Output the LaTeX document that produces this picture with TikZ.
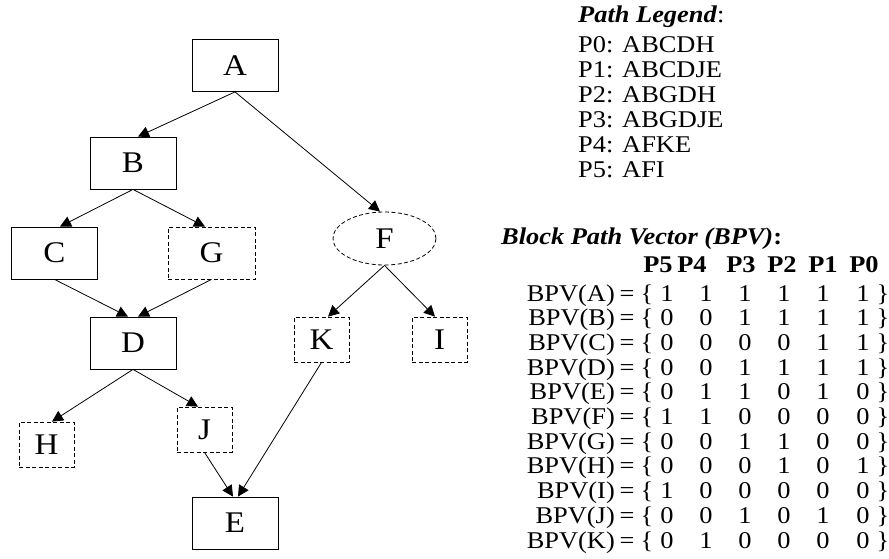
\documentclass[tikz,border=0pt]{standalone}
\usepackage{fontspec}
\setmainfont[FakeStretch=1.1]{Liberation Serif}
\usetikzlibrary{shapes.geometric,arrows.meta,calc}

\begin{document}
\begin{tikzpicture}[x=1pt,y=-1pt,
  block/.style={draw, line width=0.8pt, minimum width=86pt, minimum height=52pt,
    inner sep=0pt, font=\fontsize{30}{30}\selectfont},
  optblock/.style={draw, line width=0.8pt, dash pattern=on 4pt off 2.5pt,
    minimum width=55pt, minimum height=45pt, inner sep=0pt,
    font=\fontsize{30}{30}\selectfont},
  optellipse/.style={ellipse, draw, line width=0.8pt, dash pattern=on 4pt off 2.5pt,
    minimum width=103pt, minimum height=53pt, inner sep=0pt,
    font=\fontsize{30}{30}\selectfont},
  edge/.style={draw, line width=0.8pt, -{Triangle[length=11pt,width=11pt]}},
  legend/.style={inner sep=0pt, font=\fontsize{24}{25}\selectfont},
  tab/.style={inner sep=0pt, font=\fontsize{24}{25}\selectfont}]
\useasboundingbox (0,0) rectangle (889,558);

% control flow graph
\node[block] (A) at (235,65.5) {A};
\node[block] (B) at (133,163) {B};
\node[block] (C) at (54.5,253) {C};
\node[optblock, minimum width=87pt, minimum height=52pt] (G) at (211.5,253) {G};
\node[optellipse] (F) at (384.5,238.5) {F};
\node[block] (D) at (133,343) {D};
\node[optblock] (K) at (321.5,339.5) {K};
\node[optblock] (I) at (439.5,339.5) {I};
\node[optblock] (H) at (46.5,444.5) {H};
\node[optblock] (J) at (204.5,429.5) {J};
\node[block] (E) at (235,523) {E};

\draw[edge] (A.south) -- ($(B.north)+(5,0)$);
\draw[edge] (A.south) -- ($(F.north)+(-4.5,0)$);
\draw[edge] (B.south) -- ($(C.north)+(5.5,0)$);
\draw[edge] (B.south) -- ($(G.north)+(-6.5,0)$);
\draw[edge] (C.south) -- ($(D.north)+(-5,0)$);
\draw[edge] (G.south) -- ($(D.north)+(5,0)$);
\draw[edge] (F.south) -- ($(K.north)+(6.5,0)$);
\draw[edge] (F.south) -- ($(I.north)+(-4.5,0)$);
\draw[edge] (D.south) -- ($(H.north)+(5.5,0)$);
\draw[edge] (D.south) -- ($(J.north)+(-6.5,0)$);
\draw[edge] (J.south) -- ($(E.north)+(-2,0)$);
\draw[edge] (K.south) -- ($(E.north)+(3,0)$);

% path legend
\node[legend, anchor=base west] (lgtitle) at (578,22.5) {\textbf{\textit{Path Legend}}:};
\foreach \p/\seq [count=\i from 0] in {0/ABCDH, 1/ABCDJE, 2/ABGDH, 3/ABGDJE, 4/AFKE, 5/AFI}
  \node[legend, anchor=base west] (lg\p) at (578,52+25*\i) {P\p: \seq};

% block path vectors
\node[tab, anchor=base west] (bpvtitle) at (501,244) {\textbf{\textit{Block Path Vector (BPV)}:}};
\foreach \p/\x in {5/658, 4/692, 3/741, 2/782, 1/823, 0/864}
  \node[tab, anchor=base] (hd\p) at (\x,272) {\textbf{P\p}};

\foreach \lab/\a/\b/\c/\d/\e/\f [count=\i from 0] in
  {A/1/1/1/1/1/1, B/0/0/1/1/1/1, C/0/0/0/0/1/1, D/0/0/1/1/1/1,
   E/0/1/1/0/1/0, F/1/1/0/0/0/0, G/0/0/1/1/0/0, H/0/0/0/1/0/1,
   I/1/0/0/0/0/0, J/0/0/1/0/1/0, K/0/1/0/0/0/0}
{
  \pgfmathsetmacro\yy{301+24.7*\i}
  \node[tab, anchor=base east] (bl\lab) at (615,\yy) {BPV(\lab)};
  \node[tab, anchor=base] (eq\lab) at (627,\yy) {=};
  \node[tab, anchor=base] (ob\lab) at (647,\yy) {\{};
  \node[tab, anchor=base] (v\lab5) at (667,\yy) {\a};
  \node[tab, anchor=base] (v\lab4) at (706,\yy) {\b};
  \node[tab, anchor=base] (v\lab3) at (745,\yy) {\c};
  \node[tab, anchor=base] (v\lab2) at (784,\yy) {\d};
  \node[tab, anchor=base] (v\lab1) at (823,\yy) {\e};
  \node[tab, anchor=base] (v\lab0) at (863,\yy) {\f};
  \node[tab, anchor=base] (cb\lab) at (883,\yy) {\}};
}
\end{tikzpicture}
\end{document}
